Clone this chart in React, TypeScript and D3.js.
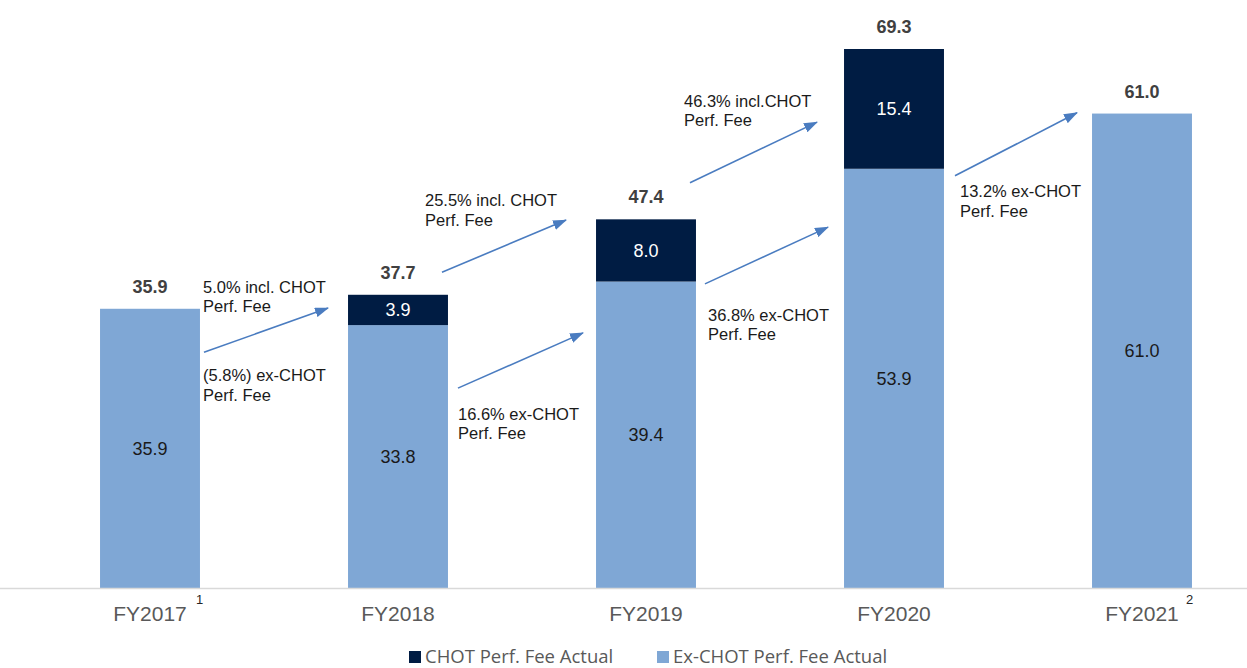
import * as d3 from "d3"

const categories = ["FY2017", "FY2018", "FY2019", "FY2020", "FY2021"]
const footnotes = ["1", "", "", "", "2"]
const exChot = [35.9, 33.8, 39.4, 53.9, 61.0]
const chot = [0, 3.9, 8.0, 15.4, 0]
const totals = [35.9, 37.7, 47.4, 69.3, 61.0]

// growth arrows: from bar i to bar i+1, values in chart units
const growth = [
  { from: 0, v0: 30.3, v1: 36.0, lines: ["5.0% incl. CHOT", "Perf. Fee"], tv: 38.7, dx0: 4, dx1: -20, tdx: 3 },
  { from: 0, v0: 30.3, v1: 30.3, lines: ["(5.8%) ex-CHOT", "Perf. Fee"], tv: 27.3, dx0: 4, dx1: 0, tdx: 3, noArrow: true },
  { from: 1, v0: 40.6, v1: 47.3, lines: ["25.5% incl. CHOT", "Perf. Fee"], tv: 49.8, dx0: -6, dx1: -30, tdx: -23 },
  { from: 1, v0: 25.7, v1: 32.8, lines: ["16.6% ex-CHOT", "Perf. Fee"], tv: 22.4, dx0: 10, dx1: -13, tdx: 10 },
  { from: 2, v0: 52.1, v1: 59.9, lines: ["46.3% incl.CHOT", "Perf. Fee"], tv: 62.6, dx0: -6, dx1: -27, tdx: -12 },
  { from: 2, v0: 39.1, v1: 46.4, lines: ["36.8% ex-CHOT", "Perf. Fee"], tv: 35.1, dx0: 9, dx1: -16, tdx: 12 },
  { from: 3, v0: 53.0, v1: 61.1, lines: ["13.2% ex-CHOT", "Perf. Fee"], tv: 51.0, dx0: 11, dx1: -15, tdx: 16 },
]

const legendItems = ["CHOT Perf. Fee Actual", "Ex-CHOT Perf. Fee Actual"]

export default function App() {
  const width = 1247
  const height = 668
  const baseY = 588
  const dark = "#001c43"
  const light = "#7fa7d5"
  const arrowColor = "#4a7cc0"
  const font = "Liberation Sans, Arial, sans-serif"

  const x = d3.scaleBand().domain(categories).range([26, 1266]).paddingInner(0.597).paddingOuter(0.2985)
  const y = d3.scaleLinear().domain([0, 75.6]).range([baseY, 0])
  const bw = x.bandwidth()

  return (
    <svg width={width} height={height} style={{ position: "absolute", left: 0, top: 0, background: "#fff" }}>
      <defs>
        <marker id="ah" viewBox="0 0 14 10" refX="13" refY="5" markerWidth="14" markerHeight="10" markerUnits="userSpaceOnUse" orient="auto">
          <path d="M0,0 L14,5 L0,10 Z" fill={arrowColor} />
        </marker>
      </defs>
      {categories.map((c, i) => {
        const x0 = x(c)!
        const cx = x0 + bw / 2
        const yEx = y(exChot[i])
        const yTot = y(exChot[i] + chot[i])
        return (
          <g key={c}>
            <rect x={x0} y={yEx} width={bw} height={baseY - yEx} fill={light} />
            {chot[i] > 0 && <rect x={x0} y={yTot} width={bw} height={yEx - yTot} fill={dark} />}
            <text x={cx} y={(yEx + baseY) / 2} dy="0.35em" textAnchor="middle" fontFamily={font} fontSize={18} fill="#1a1a1a">
              {exChot[i].toFixed(1)}
            </text>
            {chot[i] > 0 && (
              <text x={cx} y={(yEx + yTot) / 2} dy="0.35em" textAnchor="middle" fontFamily={font} fontSize={18} fill="#fff">
                {chot[i].toFixed(1)}
              </text>
            )}
            <text x={cx} y={y(totals[i]) - 16} textAnchor="middle" fontFamily={font} fontSize={18} fontWeight="bold" fill="#404040">
              {totals[i].toFixed(1)}
            </text>
            <text x={cx} y={621} textAnchor="middle" fontFamily={font} fontSize={21} fill="#595959">
              {c}
            </text>
            {footnotes[i] && (
              <text x={cx + 44 + (i === 0 ? 2 : 0)} y={604} fontFamily={font} fontSize={13} fill="#262626">
                {footnotes[i]}
              </text>
            )}
          </g>
        )
      })}
      <line x1={0} x2={width} y1={baseY + 0.5} y2={baseY + 0.5} stroke="#d9d9d9" strokeWidth={1.5} />
      {growth.map((g, k) => {
        const xs = x(categories[g.from])! + bw + g.dx0
        const xe = x(categories[g.from + 1])! + g.dx1
        const tx = x(categories[g.from])! + bw + g.tdx
        return (
          <g key={k}>
            {!g.noArrow && (
              <line x1={xs} y1={y(g.v0)} x2={xe} y2={y(g.v1)} stroke={arrowColor} strokeWidth={1.6} markerEnd="url(#ah)" />
            )}
            <text x={tx} y={y(g.tv)} fontFamily={font} fontSize={16.5} fill="#1a1a1a">
              {g.lines.map((l, j) => (
                <tspan key={j} x={tx} dy={j === 0 ? "0.35em" : "1.18em"}>
                  {l}
                </tspan>
              ))}
            </text>
          </g>
        )
      })}
      <g fontFamily="Open Sans, Noto Sans, sans-serif" fontSize={18.5} fill="#595959">
        {legendItems.map((t, i) => (
          <g key={t} transform={`translate(${409 + i * 248},0)`}>
            <rect x={0} y={651} width={12} height={12} fill={i === 0 ? dark : light} />
            <text x={16} y={663}>{t}</text>
          </g>
        ))}
      </g>
    </svg>
  )
}
